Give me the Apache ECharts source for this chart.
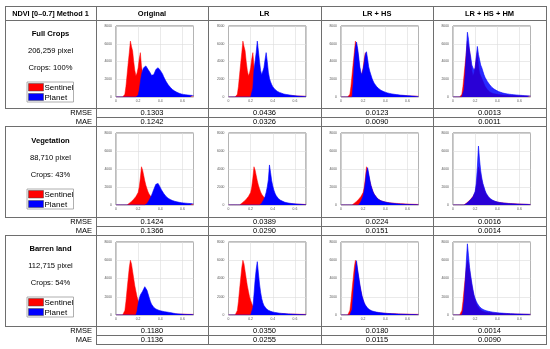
<!DOCTYPE html>
<html><head><meta charset="utf-8">
<script src="https://cdn.jsdelivr.net/npm/echarts@6/dist/echarts.min.js"></script>
<style>html,body{margin:0;padding:0;background:#fff}#c{width:550px;height:349px}</style>
</head><body><div id="c"></div>
<script>
// NDVI bin positions
const ndvi = [0.00,0.01,0.02,0.03,0.04,0.05,0.06,0.07,0.08,0.09,
 0.10,0.11,0.12,0.13,0.14,0.15,0.16,0.17,0.18,0.19,
 0.20,0.21,0.22,0.23,0.24,0.25,0.26,0.27,0.28,0.29,
 0.30,0.31,0.32,0.33,0.34,0.35,0.36,0.37,0.38,0.39,
 0.40,0.41,0.42,0.43,0.44,0.45,0.46,0.47,0.48,0.49,
 0.50,0.51,0.52,0.53,0.54,0.55,0.56,0.57,0.58,0.59,
 0.60,0.61,0.62,0.63,0.64,0.65,0.66,0.67,0.68,0.69,
 0.70];

const methods = ['Original', 'LR', 'LR + HS', 'LR + HS + HM'];
const classNames = ['Full Crops', 'Vegetation', 'Barren land'];
const pixelCounts = ['206,259 pixel', '88,710 pixel', '112,715 pixel'];
const cropShares = ['Crops: 100%', 'Crops: 43%', 'Crops: 54%'];
const yTicks = [0, 2000, 4000, 6000, 8000];
const xTicks = [0, 0.2, 0.4, 0.6];

const rmseFull = [0.1303, 0.0436, 0.0123, 0.0013];
const maeFull = [0.1242, 0.0326, 0.0090, 0.0011];
const rmseVeg = [0.1424, 0.0389, 0.0224, 0.0016];
const maeVeg = [0.1366, 0.0290, 0.0151, 0.0014];
const rmseBarren = [0.1180, 0.0350, 0.0180, 0.0014];
const maeBarren = [0.1136, 0.0255, 0.0115, 0.0090];

// Sentinel histograms (same for every method in a row)
const sentinelFull = [0,0,0,0,0,0,0,0,300,1200,
 2500,3800,5000,6300,5700,5200,4000,3000,2400,2700,
 3300,4300,5000,3500,2700,2400,2100,1800,1500,1200,
 1000,850,700,600,520,460,420,380,350,330,
 310,290,270,250,240,230,220,210,200,190,
 180,175,170,165,160,155,150,145,140,135,
 130,125,120,115,110,105,100,95,90,85,
 80];
const sentinelVeg = [0,0,0,0,0,0,0,0,0,0,
 0,0,200,300,400,500,650,800,950,1100,
 1400,2000,3000,4250,3900,3300,2700,2200,1800,1450,
 1200,1000,850,720,620,540,480,430,390,360,
 330,305,285,265,250,235,220,210,200,190,
 180,172,165,158,150,143,136,130,124,118,
 112,106,100,95,90,85,80,75,70,65,
 60];
const sentinelBarren = [0,0,0,0,0,0,0,0,500,1500,
 2800,4000,5200,6000,5600,4800,4000,3200,2600,2000,
 1600,1250,1000,800,650,540,460,400,360,330,
 300,280,265,250,238,226,215,205,196,188,
 180,174,168,162,157,152,147,142,138,134,
 130,126,122,118,115,112,109,106,103,100,
 97,94,91,88,85,82,80,78,76,74,
 72];

// Planet histograms
const planetFullOrig = [0,0,0,0,0,0,0,0,0,0,
 0,0,0,0,0,0,0,0,0,0,
 200,800,1700,2500,3000,3300,3500,3500,3300,3100,
 2900,2700,2450,2300,2500,2800,3100,3250,3300,3200,
 3000,2800,2600,2300,2050,1800,1600,1400,1250,1100,
 950,850,750,670,600,530,470,420,380,340,
 310,290,270,250,235,220,205,195,185,175,
 165];
const planetFullLR = [0,0,0,0,0,0,0,0,0,0,
 0,0,0,0,0,0,0,0,0,0,
 0,0,1000,3000,4000,5000,6300,5200,4000,3000,
 2500,2700,3300,4200,5000,4000,2800,2100,1700,1400,
 1150,1000,850,750,650,580,520,470,430,400,
 330,310,290,270,250,230,210,190,170,150,
 135,125,115,105,95,88,80,73,67,62,
 57];
const planetFullHS = [0,0,0,0,0,0,0,0,0,0,
 0,1500,4000,5500,6200,5500,4500,3400,2800,2500,
 2600,3800,4800,5100,4300,3400,2900,2500,2100,1800,
 1550,1350,1200,1050,950,850,770,700,640,590,
 540,500,460,430,400,370,350,330,310,290,
 270,255,240,225,210,200,190,180,170,160,
 150,140,130,120,110,100,90,80,70,60,
 50];
const planetFullHM = [0,0,0,0,0,0,0,0,0,0,
 800,2500,5000,7300,6500,5200,4500,3600,3300,3000,
 3300,4500,5700,4800,4200,3600,3300,2900,2500,2200,
 2000,1750,1550,1400,1250,1100,1000,900,820,750,
 680,620,570,530,490,450,420,390,370,350,
 330,310,295,280,265,250,240,230,220,210,
 200,190,180,170,160,150,140,130,125,120,
 110];
const planetVegOrig = [0,0,0,0,0,0,0,0,0,0,
 0,0,0,0,0,0,0,0,0,0,
 0,0,0,0,0,0,0,0,150,350,
 550,800,1050,1350,1700,2000,2300,2480,2400,2200,
 1950,1700,1500,1300,1120,980,860,760,680,610,
 550,500,455,415,380,350,325,300,280,260,
 245,230,215,200,190,180,170,160,150,140,
 130];
const planetVegLR = [0,0,0,0,0,0,0,0,0,0,
 0,0,0,0,0,0,0,0,0,0,
 0,0,0,0,0,0,0,0,0,0,
 200,400,650,950,1400,2000,2800,4450,3600,2700,
 2100,1650,1300,1050,860,720,610,530,460,410,
 330,300,270,245,220,200,180,165,150,135,
 120,110,100,90,82,75,68,62,56,50,
 45];
const planetVegHS = [0,0,0,0,0,0,0,0,0,0,
 0,0,0,0,0,0,0,200,400,700,
 1000,1600,2500,3600,4150,3500,2800,2200,1800,1450,
 1200,1000,850,720,620,540,480,430,390,355,
 320,295,270,250,230,215,200,185,170,158,
 146,135,125,115,106,98,90,83,76,70,
 64,58,53,48,44,40,36,33,30,27,
 25];
const planetVegHM = [0,0,0,0,0,0,0,0,0,0,
 0,0,150,250,350,450,600,750,900,1100,
 1500,2400,4200,6550,5000,3800,3000,2400,2000,1600,
 1300,1100,930,790,680,590,520,460,410,370,
 335,305,280,260,240,225,210,198,186,175,
 165,157,149,141,134,127,120,114,108,102,
 97,92,87,82,78,74,70,66,62,58,
 55];
const planetBarrenOrig = [0,0,0,0,0,0,0,0,0,0,
 0,0,0,0,0,0,0,0,0,400,
 1200,1800,2200,2400,2600,2850,3100,3000,2700,2300,
 1900,1500,1200,1000,850,740,660,600,550,510,
 470,440,410,385,360,340,320,300,285,270,
 240,215,190,170,150,135,120,108,97,88,
 80,73,67,62,57,53,49,46,43,40,
 38];
const planetBarrenLR = [0,0,0,0,0,0,0,0,0,0,
 0,0,0,0,0,0,0,0,0,0,
 0,0,800,2200,3800,5000,5850,4600,3400,2500,
 1800,1350,1050,850,700,600,520,460,410,370,
 335,305,280,258,238,220,204,190,177,165,
 154,144,134,125,116,108,100,93,86,80,
 74,68,63,58,54,50,46,43,40,37,
 35];
const planetBarrenHS = [0,0,0,0,0,0,0,0,0,0,
 600,2000,3600,5000,5950,5000,4200,3400,2700,2100,
 1700,1350,1100,900,760,650,570,500,450,410,
 375,345,320,298,278,260,244,230,216,204,
 193,183,173,164,156,148,140,133,126,120,
 114,108,102,97,92,87,82,78,74,70,
 66,62,58,55,52,49,46,43,40,38,
 36];
const planetBarrenHM = [0,0,0,0,0,0,0,0,0,400,
 1500,3500,5800,7800,6500,5200,4300,3500,2800,2200,
 1800,1500,1250,1050,900,780,690,620,560,510,
 470,435,405,378,354,332,312,294,278,263,
 250,238,227,216,206,197,188,180,172,165,
 158,151,145,139,133,128,123,118,113,109,
 105,101,97,93,89,86,83,80,77,74,
 72];

const sentinelRows = [sentinelFull, sentinelVeg, sentinelBarren];
const planetRows = [
  [planetFullOrig, planetFullLR, planetFullHS, planetFullHM],
  [planetVegOrig, planetVegLR, planetVegHS, planetVegHM],
  [planetBarrenOrig, planetBarrenLR, planetBarrenHS, planetBarrenHM]
];
const rmseRows = [rmseFull, rmseVeg, rmseBarren];
const maeRows = [maeFull, maeVeg, maeBarren];

// ---------- layout ----------
const FONT = '"Liberation Sans", Arial, sans-serif';
const plotLeft = [116, 228.5, 341, 453];
const plotTop = [26, 133, 242];
const plotH = [71, 72, 73];
const plotW = 77.5;
const colCenter = [152, 264.5, 377, 489.5];
const rowOffset = [0, 107, 215];
const metricY = [[112.5, 121.5], [221.5, 230.5], [330.5, 339.5]];
const LINE = '#6e6e6e';

const grids = [], xAxes = [], yAxes = [], series = [];
let k = 0;
for (let r = 0; r < 3; r++) {
  for (let c = 0; c < 4; c++) {
    grids.push({left: plotLeft[c], top: plotTop[r], width: plotW, height: plotH[r],
      show: true, borderColor: '#7a7a7a', borderWidth: 1, backgroundColor: '#fff', containLabel: false});
    xAxes.push({gridIndex: k, type: 'value', min: 0, max: 0.7, interval: 0.2,
      axisLine: {show: false}, axisTick: {show: false},
      splitLine: {show: true, lineStyle: {color: '#dcdcdc', width: 0.6}},
      axisLabel: {fontSize: 3.4, color: '#555', margin: 3, fontFamily: FONT, showMaxLabel: false,
        formatter: v => xTicks.includes(Math.round(v * 10) / 10) ? (v === 0 ? '0' : v.toFixed(1)) : ''}});
    yAxes.push({gridIndex: k, type: 'value', min: 0, max: 8000, interval: 2000,
      axisLine: {show: false}, axisTick: {show: false},
      splitLine: {show: true, lineStyle: {color: '#dcdcdc', width: 0.6}},
      axisLabel: {fontSize: 3.4, color: '#555', margin: 4, fontFamily: FONT,
        formatter: v => yTicks.includes(v) ? String(v) : ''}});
    const red = sentinelRows[r], blue = planetRows[r][c];
    const hm = c === 3;
    series.push({name: 'Sentinel', type: 'line', xAxisIndex: k, yAxisIndex: k, symbol: 'none', silent: true,
      data: ndvi.map((x, i) => [x, red[i]]),
      lineStyle: {color: '#ff0000', width: 0.5}, areaStyle: {color: '#ff0000', opacity: 1}, z: 2});
    series.push({name: 'Planet', type: 'line', xAxisIndex: k, yAxisIndex: k, symbol: 'none', silent: true,
      data: ndvi.map((x, i) => [x, blue[i]]),
      lineStyle: {color: '#0000ff', width: 0.6, opacity: 1},
      areaStyle: {color: '#0000ff', opacity: hm ? 0.84 : 1}, z: 3});
    k++;
  }
}

// ---------- table graphics ----------
const g = [];
function hline(y, x1, x2) { g.push({type: 'line', shape: {x1: x1, y1: y + 0.5, x2: x2, y2: y + 0.5}, style: {stroke: LINE, lineWidth: 1}, z: 10}); }
function vline(x, y1, y2) { g.push({type: 'line', shape: {x1: x + 0.5, y1: y1, x2: x + 0.5, y2: y2}, style: {stroke: LINE, lineWidth: 1}, z: 10}); }
function txt(t, x, y, size, bold, align) {
  g.push({type: 'text', x: x, y: y, z: 20, style: {text: t, fill: '#000',
    font: (bold ? 'bold ' : '') + size + 'px ' + FONT,
    textAlign: align, textVerticalAlign: 'middle', align: align, verticalAlign: 'middle'}});
}
[6, 20, 108, 126, 217, 235, 326].forEach(y => hline(y, 5, 547));
[117, 226, 335, 344].forEach(y => hline(y, 96, 547));
vline(5, 6, 109); vline(5, 126, 218); vline(5, 235, 327);
[96, 208, 321, 433, 546].forEach(x => vline(x, 6, 345));

txt('NDVI [0\u20130.7] Method 1', 50.5, 13.5, 7.3, true, 'center');
methods.forEach((m, c) => txt(m, colCenter[c], 13.5, 7.5, true, 'center'));

for (let r = 0; r < 3; r++) {
  const o = rowOffset[r];
  txt(classNames[r], 50.5, 33.5 + o, 7.6, true, 'center');
  txt(pixelCounts[r], 50.5, 51 + o, 7.6, false, 'center');
  txt(cropShares[r], 50.5, 68 + o, 7.6, false, 'center');
  const ly = 82 + o;
  g.push({type: 'rect', shape: {x: 27, y: ly, width: 46.5, height: 20}, style: {fill: 'none', stroke: '#9a9a9a', lineWidth: 0.8}, z: 10});
  g.push({type: 'rect', shape: {x: 28.5, y: ly + 1.5, width: 15, height: 7.5}, style: {fill: '#ff0000', stroke: '#444', lineWidth: 0.5}, z: 11});
  g.push({type: 'rect', shape: {x: 28.5, y: ly + 11.5, width: 15, height: 7}, style: {fill: '#0000ff', stroke: '#444', lineWidth: 0.5}, z: 11});
  txt('Sentinel', 44.5, ly + 5.5, 8, false, 'left');
  txt('Planet', 44.5, ly + 15.5, 8, false, 'left');
  txt('RMSE', 92, metricY[r][0], 7.5, false, 'right');
  txt('MAE', 92, metricY[r][1], 7.5, false, 'right');
  for (let c = 0; c < 4; c++) {
    txt(rmseRows[r][c].toFixed(4), colCenter[c], metricY[r][0], 7.5, false, 'center');
    txt(maeRows[r][c].toFixed(4), colCenter[c], metricY[r][1], 7.5, false, 'center');
  }
}

const chart = echarts.init(document.getElementById('c'), null, {renderer: 'canvas'});
chart.setOption({
  animation: false,
  backgroundColor: '#fff',
  grid: grids, xAxis: xAxes, yAxis: yAxes, series: series,
  graphic: {elements: g}
});
</script></body></html>
